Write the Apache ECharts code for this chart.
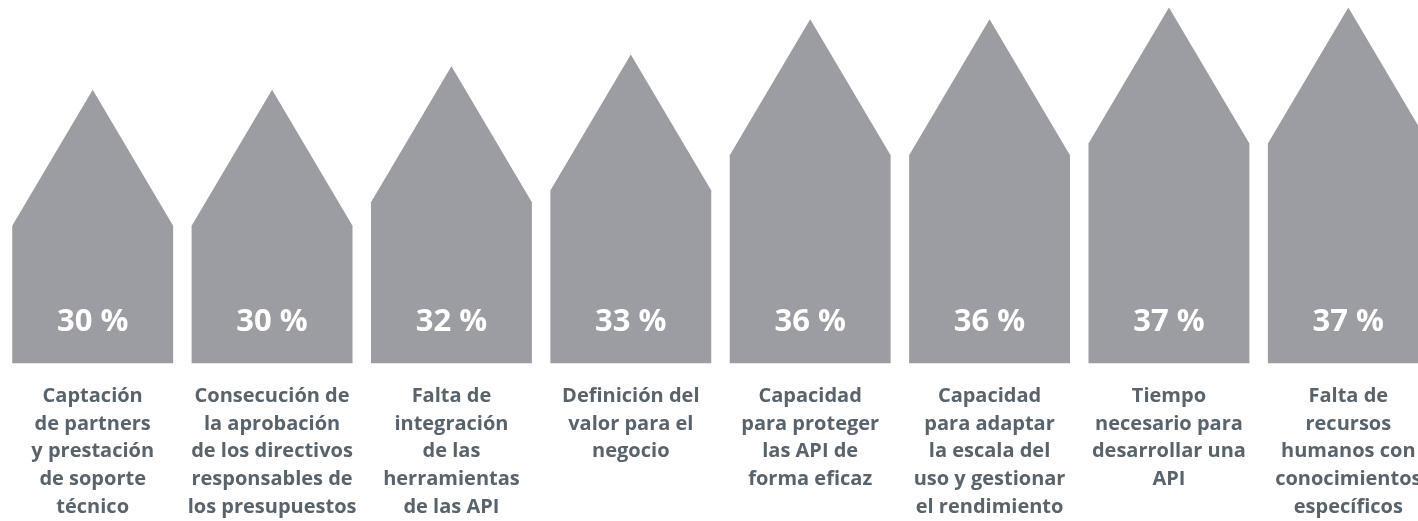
<!DOCTYPE html>
<html lang="es" style="height: 100%">
<head>
  <meta charset="utf-8">
</head>
<body style="height: 100%; margin: 0; background: #fff; overflow: hidden">
  <!-- a little wider than the window: the last house is cut off at the right edge -->
  <div id="container" style="height: 100%; width: 1438px"></div>

  <script type="text/javascript" src="https://cdn.jsdelivr.net/npm/echarts@6/dist/echarts.min.js"></script>

  <script type="text/javascript">
    var dom = document.getElementById('container');
    var myChart = echarts.init(dom, null, { renderer: 'canvas' });

    // categories (line breaks as in the original)
    const categories = [
      'Captación\nde partners\ny prestación\nde soporte\ntécnico',
      'Consecución de\nla aprobación\nde los directivos\nresponsables de\nlos presupuestos',
      'Falta de\nintegración\nde las\nherramientas\nde las API',
      'Definición del\nvalor para el\nnegocio',
      'Capacidad\npara proteger\nlas API de\nforma eficaz',
      'Capacidad\npara adaptar\nla escala del\nuso y gestionar\nel rendimiento',
      'Tiempo\nnecesario para\ndesarrollar una\nAPI',
      'Falta de\nrecursos\nhumanos con\nconocimientos\nespecíficos'
    ];
    const values = [30, 30, 32, 33, 36, 36, 37, 37];

    const barColor = '#9c9da2';
    const textColor = '#59636b';
    const fontFamily = '"Open Sans", sans-serif';

    function renderHouse(params, api) {
      const idx = api.value(0);
      const top = api.coord([idx, api.value(1)]);
      const base = api.coord([idx, 6.75]);
      const w = api.size([1, 0])[0] * 0.897;
      const half = w / 2;
      const cx = top[0];
      const roof = 136;
      const shoulder = top[1] + roof;
      return {
        type: 'group',
        children: [
          {
            type: 'polygon',
            shape: {
              points: [
                [cx - half, base[1]],
                [cx - half, shoulder],
                [cx, top[1]],
                [cx + half, shoulder],
                [cx + half, base[1]]
              ]
            },
            style: { fill: barColor }
          },
          {
            type: 'text',
            x: cx,
            y: base[1] - 41,
            style: {
              text: api.value(1) + ' %',
              fill: '#ffffff',
              font: 'bold 31px ' + fontFamily,
              align: 'center',
              verticalAlign: 'middle'
            }
          }
        ]
      };
    }

    const option = {
      animation: false,
      grid: { left: 3, right: 0, top: 7.5, bottom: 155 },
      xAxis: {
        type: 'category',
        data: categories,
        axisLine: { show: false },
        axisTick: { show: false },
        axisLabel: {
          interval: 0,
          hideOverlap: false,
          margin: 19,
          color: textColor,
          fontFamily: fontFamily,
          fontWeight: 'bold',
          fontSize: 20,
          lineHeight: 27.75,
          align: 'center',
          verticalAlign: 'top'
        }
      },
      yAxis: {
        type: 'value',
        min: 6.75,
        max: 37,
        show: false,
        splitLine: { show: false }
      },
      series: [
        {
          type: 'custom',
          renderItem: renderHouse,
          encode: { x: 0, y: 1 },
          data: values.map(function (v, i) { return [i, v]; })
        }
      ]
    };

    myChart.setOption(option);
    window.addEventListener('resize', myChart.resize);
  </script>
</body>
</html>
